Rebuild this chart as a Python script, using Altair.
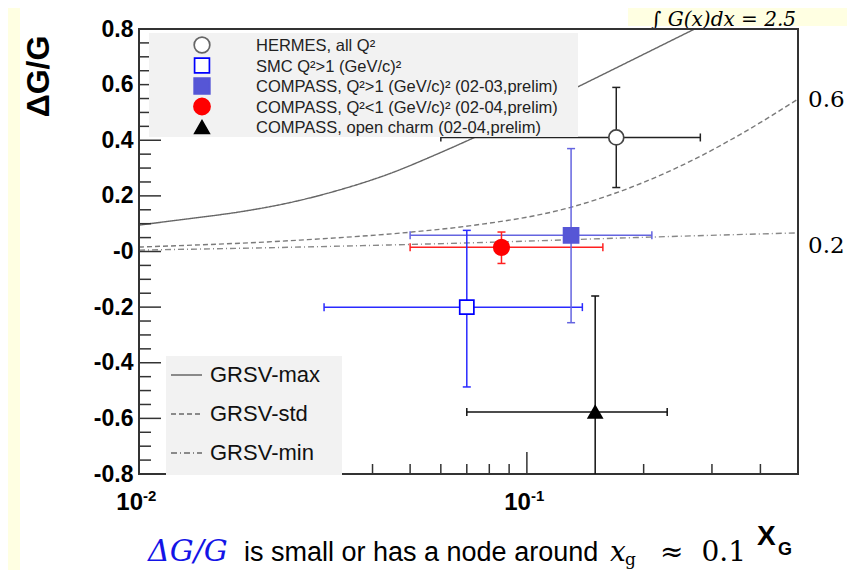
import altair as alt
import pandas as pd

# ---------------- data ----------------
series = ["HERMES, all Q²", "SMC Q²>1 (GeV/c)²",
          "COMPASS, Q²>1 (GeV/c)² (02-03,prelim)",
          "COMPASS, Q²<1 (GeV/c)² (02-04,prelim)",
          "COMPASS, open charm (02-04,prelim)"]
x_val = [0.170, 0.070, 0.130, 0.086, 0.150]
x_lo = [0.060, 0.030, 0.050, 0.050, 0.070]
x_hi = [0.280, 0.139, 0.210, 0.157, 0.230]
y_val = [0.41, -0.20, 0.058, 0.015, -0.577]
y_lo = [0.23, -0.487, -0.256, -0.043, -0.98]
y_hi = [0.59, 0.076, 0.370, 0.070, -0.16]

marker_shape = ["circle", "square", "square", "circle", "triangle-up"]
marker_fill = ["white", "white", "#5656d6", "#ff0000", "#000000"]
marker_stroke = ["#444444", "#0000ff", "#5656d6", "#ff0000", "#000000"]
marker_size = [225, 200, 225, 240, 190]
bar_color = ["#222222", "#2a2aff", "#6464e0", "#ff2020", "#111111"]

grsv_names = ["GRSV-max", "GRSV-std", "GRSV-min"]
grsv_dash = [[1, 0], [5, 3], [6, 3, 1, 3]]
max_x = [0.01, 0.01345, 0.0181, 0.02435, 0.0328, 0.0441, 0.0593, 0.0709, 0.1353, 0.268, 0.35]
max_y = [0.095, 0.118, 0.142, 0.175, 0.221, 0.279, 0.353, 0.401, 0.592, 0.797, 0.877]
std_x = [0.01, 0.026, 0.0505, 0.0709, 0.129, 0.181, 0.268, 0.360, 0.50]
std_y = [0.016, 0.041, 0.070, 0.092, 0.158, 0.225, 0.329, 0.426, 0.548]
min_x = [0.01, 0.026, 0.0709, 0.211, 0.50]
min_y = [0.005, 0.016, 0.031, 0.052, 0.067]

y_major = [-0.8, -0.6, -0.4, -0.2, 0.0, 0.2, 0.4, 0.6, 0.8]
y_minor = [-0.75, -0.7, -0.65, -0.55, -0.5, -0.45, -0.35, -0.3, -0.25, -0.15, -0.1, -0.05,
           0.05, 0.1, 0.15, 0.25, 0.3, 0.35, 0.45, 0.5, 0.55, 0.65, 0.7, 0.75]
x_major = [0.1]
x_minor = [0.02, 0.03, 0.04, 0.05, 0.06, 0.07, 0.08, 0.09, 0.2, 0.3, 0.4]
x_lab_val = [0.01, 0.1]
x_lab_base = ["10", "10"]
x_lab_exp = ["-2", "-1"]

curve_labels = ["0.6", "0.2"]
integral_text = "∫ G(x)dx = 2.5"
y_title = "ΔG/G"
x_title_main, x_title_sub = "X", "G"
caption_parts = ["ΔG/G", "is small or has a node around", "x", "g", "≈", "0.1"]

# ---------------- helpers ----------------
W, H = 659, 445
SANS = "Liberation Sans"
SERIF = "DejaVu Serif"
xs = alt.Scale(type="log", domain=[0.01, 0.5])
ys = alt.Scale(domain=[-0.8, 0.8])
yaxis = alt.Axis(values=y_major, ticks=False, domain=False, grid=False, tickSize=0,
                 labelPadding=6, labelFont=SANS, labelFontWeight="bold", labelFontSize=23,
                 labelColor="#000000", labelFlush=False, labelOverlap=False,
                 labelExpr="datum.value == 0 ? '-0' : (datum.value < 0 ? '-' + format(-datum.value, '.1f') : format(datum.value, '.1f'))",
                 title=y_title, titleFont=SANS, titleFontWeight="bold", titleFontSize=32,
                 titleColor="#000000", titleAngle=270, titleX=-101, titleY=47,
                 titleAlign="center", titleBaseline="middle")


def X(f):
    return alt.X(f, type="quantitative", scale=xs, axis=None)


def Y(f):
    return alt.Y(f, type="quantitative", scale=ys, axis=yaxis)


one = pd.DataFrame({"k": [0]})
layers = []


def box(x1, x2, y1, y2, color):
    return alt.Chart(one).mark_rect(color=color).encode(
        x=alt.value(x1), x2=alt.value(x2), y=alt.value(y1), y2=alt.value(y2))


def label(text, x, y, size, font=SANS, weight="normal", style="normal", color="#000000",
          align="left", baseline="alphabetic"):
    return alt.Chart(one).mark_text(text=text, font=font, fontSize=size, fontWeight=weight,
                                    fontStyle=style, color=color, align=align,
                                    baseline=baseline).encode(x=alt.value(x), y=alt.value(y))


# slide decorations
layers.append(box(-131, -119, -21, 541, "#FFFFE2"))
layers.append(box(489, 708, -21, -3, "#FFFFE2"))
layers.append(label(integral_text, 512, -3, 20, font=SERIF, style="italic"))

# GRSV curves
for xv, yv, dash, col in [(max_x, max_y, grsv_dash[0], "#666666"),
                          (std_x, std_y, grsv_dash[1], "#7a7a7a"),
                          (min_x, min_y, grsv_dash[2], "#888888")]:
    df = pd.DataFrame({"x": xv, "y": yv})
    layers.append(alt.Chart(df).mark_line(clip=True, strokeWidth=1.4, strokeDash=dash, color=col,
                                          interpolate="monotone")
                  .encode(x=X("x"), y=Y("y"), order="x:Q"))

# ticks (inward)
layers.append(alt.Chart(pd.DataFrame({"v": y_major})).mark_rule(color="#333333", strokeWidth=1.5)
              .encode(y=Y("v"), x=alt.value(0), x2=alt.value(22)))
layers.append(alt.Chart(pd.DataFrame({"v": y_minor})).mark_rule(color="#333333", strokeWidth=1.5)
              .encode(y=Y("v"), x=alt.value(0), x2=alt.value(12)))
layers.append(alt.Chart(pd.DataFrame({"v": x_major})).mark_rule(color="#333333", strokeWidth=1.5)
              .encode(x=X("v"), y=alt.value(H), y2=alt.value(H - 22)))
layers.append(alt.Chart(pd.DataFrame({"v": x_minor})).mark_rule(color="#333333", strokeWidth=1.5)
              .encode(x=X("v"), y=alt.value(H), y2=alt.value(H - 10)))

# frame
layers.append(alt.Chart(one).mark_rect(fillOpacity=0, stroke="#333333", strokeWidth=2)
              .encode(x=alt.value(0), x2=alt.value(W), y=alt.value(0), y2=alt.value(H)))

# x labels 10^-2, 10^-1
xl = pd.DataFrame({"v": x_lab_val, "b": x_lab_base, "e": x_lab_exp})
layers.append(alt.Chart(xl).mark_text(font=SANS, fontWeight="bold", fontSize=24, align="right",
                                      baseline="alphabetic", dx=4, color="#000000")
              .encode(x=X("v"), y=alt.value(481), text="b:N"))
layers.append(alt.Chart(xl).mark_text(font=SANS, fontWeight="bold", fontSize=15, align="left",
                                      baseline="alphabetic", dx=4, color="#000000")
              .encode(x=X("v"), y=alt.value(472), text="e:N"))

# data points
pts = pd.DataFrame({"s": series, "x": x_val, "xlo": x_lo, "xhi": x_hi,
                    "y": y_val, "ylo": y_lo, "yhi": y_hi, "bc": bar_color,
                    "shape": marker_shape, "fill": marker_fill, "stroke": marker_stroke,
                    "size": marker_size})
bc = alt.Color("bc:N", scale=None)
layers.append(alt.Chart(pts).mark_rule(clip=True, strokeWidth=1.5)
              .encode(x=X("xlo"), x2=alt.X2("xhi"), y=Y("y"), color=bc))
layers.append(alt.Chart(pts).mark_rule(clip=True, strokeWidth=1.5)
              .encode(x=X("x"), y=Y("ylo"), y2=alt.Y2("yhi"), color=bc))
for f in ["xlo", "xhi"]:
    layers.append(alt.Chart(pts).mark_tick(orient="vertical", size=8, thickness=1.5, opacity=1, clip=True)
                  .encode(x=X(f), y=Y("y"), color=bc))
for f in ["ylo", "yhi"]:
    layers.append(alt.Chart(pts).mark_tick(orient="horizontal", size=8, thickness=1.5, opacity=1, clip=True)
                  .encode(x=X("x"), y=Y(f), color=bc))
layers.append(alt.Chart(pts).mark_point(filled=True, opacity=1, strokeWidth=1.7)
              .encode(x=X("x"), y=Y("y"), shape=alt.Shape("shape:N", scale=None),
                      fill=alt.Fill("fill:N", scale=None), stroke=alt.Stroke("stroke:N", scale=None),
                      size=alt.Size("size:Q", scale=None)))

# top legend
layers.append(box(10, 439, 4, 108, "#F2F2F2"))
for i, name in enumerate(series):
    yy = 16 + i * 20.5
    layers.append(alt.Chart(one).mark_point(shape=marker_shape[i], filled=True, fill=marker_fill[i],
                                            stroke=marker_stroke[i] if i else "#666666",
                                            strokeWidth=1.7, size=marker_size[i] + 20, opacity=1)
                  .encode(x=alt.value(63), y=alt.value(yy)))
    layers.append(label(name, 117, yy + 1, 16.5, color="#222222", baseline="middle"))

# bottom legend
layers.append(box(27, 203, 327, 446, "#F2F2F2"))
for i, name in enumerate(grsv_names):
    yy = 346 + i * 39
    layers.append(alt.Chart(one).mark_rule(color="#222222", strokeWidth=1.2, strokeDash=grsv_dash[i])
                  .encode(x=alt.value(32), x2=alt.value(63), y=alt.value(yy)))
    layers.append(label(name, 71, yy, 22, color="#111111", baseline="middle"))

# curve labels on the right
layers.append(label(curve_labels[0], 669, 71, 23, font=SERIF, baseline="middle"))
layers.append(label(curve_labels[1], 669, 217, 23, font=SERIF, baseline="middle"))

# x title
layers.append(label(x_title_main, 618, 516, 28, weight="bold"))
layers.append(label(x_title_sub, 639, 526, 18, weight="bold"))

# caption
CB = 532
layers.append(label(caption_parts[0], 9, CB, 30, font=SERIF, style="italic", color="#1414e6"))
layers.append(label(caption_parts[1], 105, CB, 27))
layers.append(label(caption_parts[2], 471, CB, 28, font=SERIF, style="italic"))
layers.append(label(caption_parts[3], 486, CB + 4, 17, font=SERIF))
layers.append(label(caption_parts[4], 521, CB, 28, font=SERIF))
layers.append(label(caption_parts[5], 607, CB, 28, font=SERIF, align="right"))

chart = alt.layer(*layers).properties(
    width=W, height=H, background="white",
    autosize=alt.AutoSizeParams(type="none"),
    padding={"left": 131, "top": 21, "right": 49, "bottom": 96},
).configure_view(strokeWidth=0)

chart.save("out.html", embed_options={"renderer": "svg", "actions": False})
